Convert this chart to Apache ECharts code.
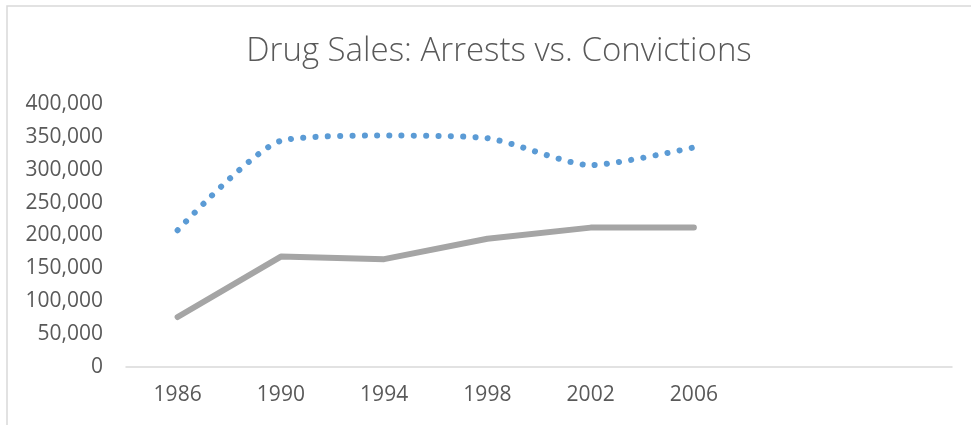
<!DOCTYPE html>
<html>
<head>
<meta charset="utf-8">
<script src="https://cdn.jsdelivr.net/npm/echarts@6/dist/echarts.min.js"></script>
<style>html,body{margin:0;padding:0;background:#fff;}#c{width:971px;height:425px;}</style>
</head>
<body>
<div id="c"></div>
<script>
const categories = ['1986', '1990', '1994', '1998', '2002', '2006', '', ''];
const arrests = [208000, 344000, 352000, 348000, 307000, 334000, null, null];
const convictions = [76000, 168000, 164000, 195000, 212000, 212000, null, null];
const yTicks = { min: 0, max: 400000, interval: 50000 };

const chart = echarts.init(document.getElementById('c'));
chart.setOption({
  animation: false,
  backgroundColor: '#fff',
  title: {
    text: 'Drug Sales: Arrests vs. Convictions',
    left: 494, top: 30, textAlign: 'center',
    textStyle: { fontFamily: 'Open Sans', fontWeight: 300, fontSize: 33, color: '#595959' }
  },
  graphic: [{
    type: 'rect', shape: { x: 7, y: 6, width: 1000, height: 500 },
    style: { fill: 'none', stroke: '#d9d9d9', lineWidth: 1.5 }, silent: true, z: -1
  }],
  grid: { left: 126, right: 19, top: 104, bottom: 58, containLabel: false },
  xAxis: {
    type: 'category', data: categories, boundaryGap: true,
    axisLine: { lineStyle: { color: '#d9d9d9', width: 1.5 } },
    axisTick: { show: false },
    axisLabel: { color: '#595959', fontFamily: 'Open Sans', fontSize: 21, margin: 18, interval: 0 }
  },
  yAxis: {
    type: 'value', min: yTicks.min, max: yTicks.max, interval: yTicks.interval,
    axisLine: { show: false }, axisTick: { show: false }, splitLine: { show: false },
    axisLabel: {
      color: '#595959', fontFamily: 'Open Sans', fontSize: 21, margin: 23,
      formatter: v => v.toLocaleString('en-US')
    }
  },
  series: [
    {
      name: 'Arrests', type: 'line', data: arrests, smooth: 0.22, symbol: 'none',
      lineStyle: { color: '#5B9BD5', width: 6, type: [0.1, 12.2], cap: 'round' }
    },
    {
      name: 'Convictions', type: 'line', data: convictions, smooth: false, symbol: 'none',
      lineStyle: { color: '#A5A5A5', width: 6, cap: 'round', join: 'round' }
    }
  ]
});
</script>
</body>
</html>
